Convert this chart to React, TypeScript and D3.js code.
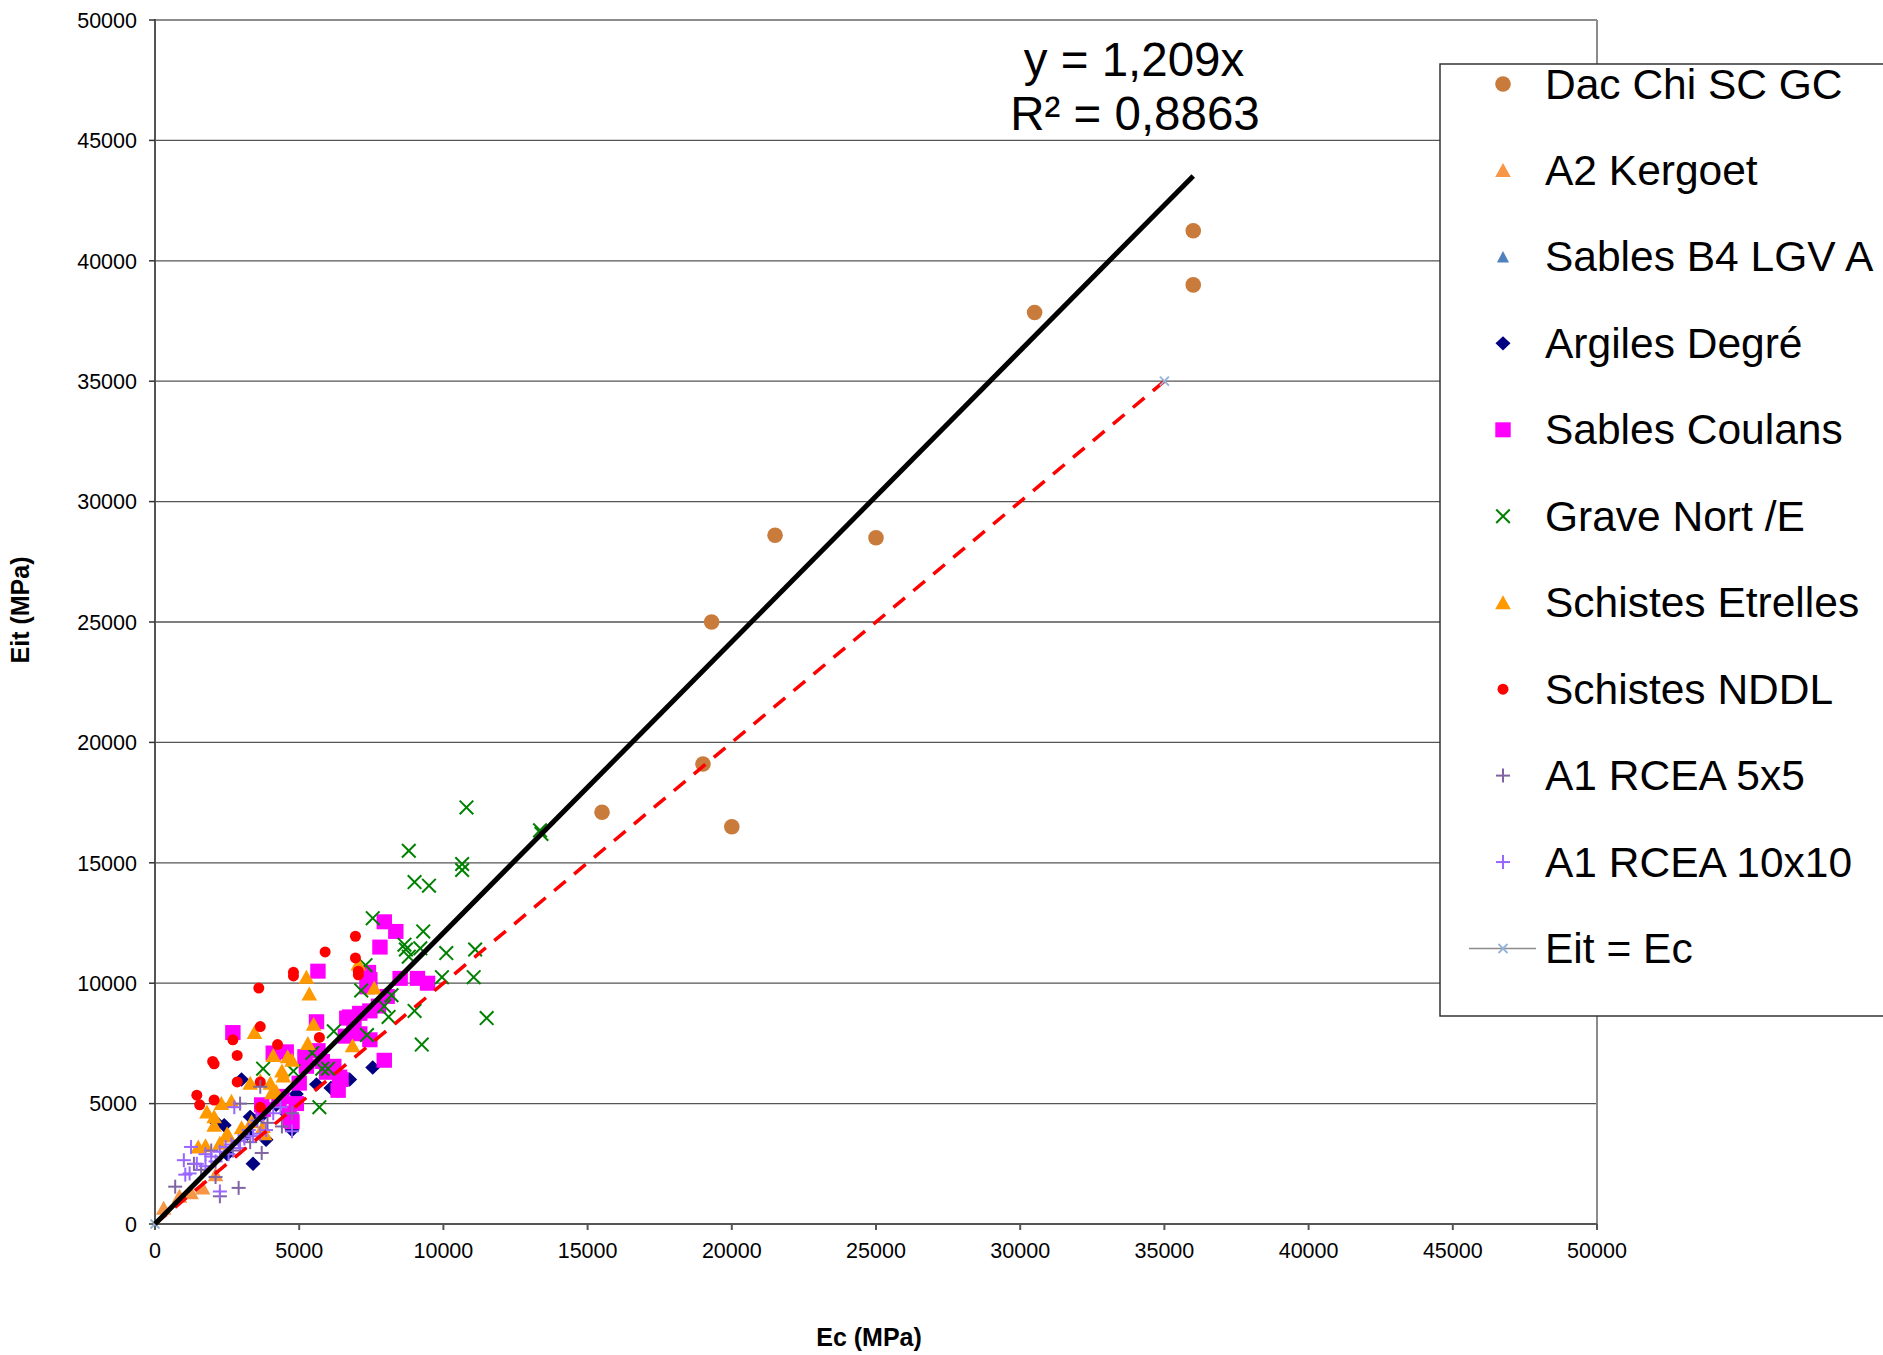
import React, { useEffect } from "react";
import * as d3 from "d3";

// ---------- data ----------
const xTickValues = [0, 5000, 10000, 15000, 20000, 25000, 30000, 35000, 40000, 45000, 50000];
const yTickValues = [0, 5000, 10000, 15000, 20000, 25000, 30000, 35000, 40000, 45000, 50000];

const dacChi: [number, number][] = [
  [36000, 41250], [36000, 39000], [30500, 37850], [21500, 28600], [25000, 28500],
  [19300, 25000], [15500, 17100], [19000, 19100], [20000, 16500],
];

const a2Kergoet: [number, number][] = [
  [300, 650], [850, 1150], [1250, 1300], [1650, 1500], [2100, 2050],
];

const sablesB4: [number, number][] = [];

const argilesDegre: [number, number][] = [
  [7550, 6500], [6750, 6000], [5600, 5800], [6100, 5650], [3000, 6000], [5800, 6650],
  [4750, 3900], [3400, 2500], [2400, 4100], [2100, 4250], [3700, 4500], [4550, 4600],
  [4900, 5400], [3850, 3500], [3200, 3750], [2500, 2900], [3300, 4450], [4200, 4950],
];

const sablesCoulans: [number, number][] = [
  [7950, 12550], [8350, 12150], [7800, 11500], [5650, 10500], [7400, 10450], [7450, 10150],
  [8500, 10200], [9100, 10200], [9450, 10000], [7350, 9850], [8050, 9450], [7450, 8850],
  [7100, 8750], [6750, 8600], [7750, 9050], [5600, 8400], [2700, 7950], [6600, 7800],
  [7450, 7650], [7950, 6800], [4100, 7100], [4550, 7150], [5200, 6950], [5250, 6550],
  [5800, 6750], [6200, 6550], [6400, 6100], [6350, 5550], [5000, 5850], [4900, 5000],
  [4650, 4600], [4700, 4300], [3700, 4950], [5950, 6300], [6900, 8200], [5650, 7200],
  [4400, 5300], [6650, 8550], [7100, 7900], [6450, 6000], [6050, 6350], [4300, 5150],
  [3750, 4750], [4750, 4250],
];

const graveNort: [number, number][] = [
  [10800, 17300], [13350, 16350], [13400, 16200], [8800, 15500], [10650, 14950], [10650, 14700],
  [9000, 14200], [9500, 14050], [7550, 12700], [9300, 12150], [8650, 11600], [8700, 11400],
  [8800, 11100], [9200, 11450], [10100, 11250], [11100, 11400], [7300, 10750], [9950, 10250],
  [11050, 10250], [7150, 9700], [8200, 9500], [7950, 9050], [8100, 8600], [9000, 8850],
  [11500, 8550], [6200, 8000], [7350, 7850], [9250, 7450], [5450, 7100], [4800, 6350],
  [5800, 6450], [6000, 6450], [3750, 6450], [5700, 4850],
];

const schistesEtrelles: [number, number][] = [
  [5250, 10250], [5350, 9550], [7050, 10800], [7600, 9800], [5500, 8300], [3450, 7950],
  [5300, 7500], [6850, 7400], [4100, 7000], [4600, 6950], [4750, 6800], [4400, 6350],
  [3300, 5850], [3650, 5950], [4000, 5850], [4050, 5450], [2300, 5000], [2650, 5100],
  [1800, 4650], [2050, 4450], [2050, 4100], [2550, 3650], [1500, 3200], [1750, 3250],
  [2500, 3750], [3000, 4000], [3750, 4050], [3800, 3750], [3350, 4250], [2250, 3350],
  [4200, 5500], [4450, 6150],
];

const schistesNDDL: [number, number][] = [
  [6950, 11950], [5900, 11300], [6950, 11050], [7050, 10500], [7050, 10350], [4800, 10450],
  [4800, 10300], [3600, 9800], [3650, 8200], [2700, 7650], [4250, 7450], [5700, 7750],
  [2850, 7000], [2000, 6750], [2050, 6650], [3650, 5900], [2850, 5900], [1450, 5350],
  [2050, 5150], [1550, 4950], [3650, 4850],
];

const a1Rcea5: [number, number][] = [
  [700, 1550], [2250, 1150], [2900, 1500], [3650, 5700], [4750, 4600], [3700, 2950],
  [1350, 2500], [2100, 1950], [2950, 5000], [3900, 4200], [3300, 3400], [2700, 3050],
  [1600, 2250], [4400, 4050], [1950, 3050],
];

const a1Rcea10: [number, number][] = [
  [1000, 2650], [1050, 2050], [1250, 3200], [1450, 2500], [1750, 2400], [1950, 2800],
  [2250, 3000], [2450, 3200], [2650, 3300], [2900, 3450], [3100, 3550], [3400, 3650],
  [3650, 3750], [3850, 3900], [4100, 4600], [4350, 4850], [2750, 4850], [4750, 3850],
  [2250, 1350], [1200, 2100], [2100, 2600], [2550, 2900], [3250, 3900], [3550, 4300],
  [1750, 2900], [2950, 3150],
];

const eitEc: [number, number][] = [[0, 0], [35000, 35000]];

const trendSlope = 1.209;
const trendXMax = 36000;
const eqLine1 = "y = 1,209x";
const eqLine2 = "R² = 0,8863";
const xTitle = "Ec (MPa)";
const yTitle = "Eit (MPa)";

type Shape = "circle" | "triangle" | "smalltriangle" | "diamond" | "square" | "x" | "plus" | "smallcircle";

const seriesList: { name: string; data: [number, number][]; shape: Shape; color: string }[] = [
  { name: "Dac Chi SC GC", data: dacChi, shape: "circle", color: "#C87B3B" },
  { name: "A2 Kergoet", data: a2Kergoet, shape: "triangle", color: "#F79646" },
  { name: "Sables B4 LGV A", data: sablesB4, shape: "smalltriangle", color: "#4F81BD" },
  { name: "Argiles Degré", data: argilesDegre, shape: "diamond", color: "#000080" },
  { name: "Sables Coulans", data: sablesCoulans, shape: "square", color: "#FF00FF" },
  { name: "Grave Nort /E", data: graveNort, shape: "x", color: "#008000" },
  { name: "Schistes Etrelles", data: schistesEtrelles, shape: "triangle", color: "#FF9900" },
  { name: "Schistes NDDL", data: schistesNDDL, shape: "smallcircle", color: "#FF0000" },
  { name: "A1 RCEA 5x5", data: a1Rcea5, shape: "plus", color: "#8064A2" },
  { name: "A1 RCEA 10x10", data: a1Rcea10, shape: "plus", color: "#9966FF" },
];
const eitEcName = "Eit = Ec";

// ---------- marker ----------
function Marker({ shape, x, y, color }: { shape: Shape; x: number; y: number; color: string }) {
  switch (shape) {
    case "circle":
      return <circle cx={x} cy={y} r={7.8} fill={color} />;
    case "smallcircle":
      return <circle cx={x} cy={y} r={5.5} fill={color} />;
    case "square":
      return <rect x={x - 7.7} y={y - 7.5} width={15.4} height={15} fill={color} />;
    case "diamond":
      return <path d={`M${x},${y - 7.2}L${x + 7.5},${y}L${x},${y + 7.2}L${x - 7.5},${y}Z`} fill={color} />;
    case "triangle":
      return <path d={`M${x},${y - 7.5}L${x + 7.8},${y + 6.5}L${x - 7.8},${y + 6.5}Z`} fill={color} />;
    case "smalltriangle":
      return <path d={`M${x},${y - 6}L${x + 6},${y + 5.5}L${x - 6},${y + 5.5}Z`} fill={color} />;
    case "x":
      return (
        <g stroke={color} strokeWidth={2}>
          <line x1={x - 6.8} y1={y - 6.8} x2={x + 6.8} y2={y + 6.8} />
          <line x1={x - 6.8} y1={y + 6.8} x2={x + 6.8} y2={y - 6.8} />
        </g>
      );
    case "plus":
      return (
        <g stroke={color} strokeWidth={2}>
          <line x1={x - 7} y1={y} x2={x + 7} y2={y} />
          <line x1={x} y1={y - 7} x2={x} y2={y + 7} />
        </g>
      );
  }
  return null;
}

function SmallX({ x, y }: { x: number; y: number }) {
  return (
    <g stroke="#95B3D7" strokeWidth={1.8}>
      <line x1={x - 4.5} y1={y - 4.5} x2={x + 4.5} y2={y + 4.5} />
      <line x1={x - 4.5} y1={y + 4.5} x2={x + 4.5} y2={y - 4.5} />
    </g>
  );
}

const FONT = "'Liberation Sans', Arial, Helvetica, sans-serif";

export default function App() {
  useEffect(() => {
    document.body.style.margin = "0";
    document.body.style.overflow = "hidden";
  }, []);

  const W = 1883;
  const H = 1355;
  const xScale = d3.scaleLinear().domain([0, 50000]).range([155, 1597]);
  const yScale = d3.scaleLinear().domain([0, 50000]).range([1224, 20]);

  const lineGen = d3
    .line<[number, number]>()
    .x((d) => xScale(d[0]))
    .y((d) => yScale(d[1]));

  const trendPts: [number, number][] = [
    [0, 0],
    [trendXMax, trendXMax * trendSlope],
  ];

  const legendX = 1440;
  const legendTop = 64;
  const legendBottom = 1016;
  const legendMarkerX = 1503;
  const legendTextX = 1545;
  const legendBase0 = 98.5;
  const legendStep = 86.45;

  const legendItems = [...seriesList.map((s) => s.name), eitEcName];

  return (
    <>
      <style>{"body{margin:0;overflow:hidden}"}</style>
      <svg width={W} height={H} style={{ display: "block", background: "#fff" }} fontFamily={FONT}>
        <rect x={0} y={0} width={W} height={H} fill="#fff" />
        {/* gridlines */}
        {yTickValues.map((v) => (
          <line
            key={"g" + v}
            x1={xScale(0)}
            x2={xScale(50000)}
            y1={yScale(v)}
            y2={yScale(v)}
            stroke={v === 50000 ? "#8c8c8c" : "#555"}
            strokeWidth={v === 50000 ? 2 : 1.3}
          />
        ))}
        {/* right border */}
        <line x1={xScale(50000)} x2={xScale(50000)} y1={yScale(50000)} y2={yScale(0)} stroke="#8c8c8c" strokeWidth={2} />
        {/* axes */}
        <line x1={xScale(0)} x2={xScale(0)} y1={yScale(50000) - 1} y2={yScale(0)} stroke="#555" strokeWidth={2} />
        <line x1={xScale(0)} x2={xScale(50000)} y1={yScale(0)} y2={yScale(0)} stroke="#555" strokeWidth={2} />
        {/* y ticks */}
        {yTickValues.map((v) => (
          <g key={"yt" + v}>
            <line x1={xScale(0) - 6} x2={xScale(0)} y1={yScale(v)} y2={yScale(v)} stroke="#333" strokeWidth={1.5} />
            <text x={137} y={yScale(v)} dy="0.36em" textAnchor="end" fontSize={21.5} fill="#000">
              {v}
            </text>
          </g>
        ))}
        {/* x ticks */}
        {xTickValues.map((v) => (
          <g key={"xt" + v}>
            <line x1={xScale(v)} x2={xScale(v)} y1={yScale(0)} y2={yScale(0) + 6} stroke="#555" strokeWidth={2} />
            <text x={xScale(v)} y={1258} textAnchor="middle" fontSize={21.5} fill="#000">
              {v}
            </text>
          </g>
        ))}
        {/* series */}
        {seriesList.map((s) => (
          <g key={s.name}>
            {s.data.map((d, i) => (
              <Marker key={i} shape={s.shape} x={xScale(d[0])} y={yScale(d[1])} color={s.color} />
            ))}
          </g>
        ))}
        {/* Eit = Ec */}
        <path d={lineGen(eitEc) || ""} stroke="#FF0000" strokeWidth={3.5} strokeDasharray="15,11" fill="none" />
        {eitEc.map((d, i) => (
          <SmallX key={"e" + i} x={xScale(d[0])} y={yScale(d[1])} />
        ))}
        {/* trend line */}
        <path d={lineGen(trendPts) || ""} stroke="#000" strokeWidth={5} fill="none" />
        {/* equation */}
        <text x={1134} y={76} textAnchor="middle" fontSize={47.5} fill="#000">
          {eqLine1}
        </text>
        <text x={1135} y={130} textAnchor="middle" fontSize={47.5} fill="#000">
          {eqLine2}
        </text>
        {/* axis titles */}
        <text x={869} y={1346} textAnchor="middle" fontSize={25} fontWeight="bold" fill="#000">
          {xTitle}
        </text>
        <text transform="translate(29,610) rotate(-90)" textAnchor="middle" fontSize={25} fontWeight="bold" fill="#000">
          {yTitle}
        </text>
        {/* legend */}
        <rect
          x={legendX}
          y={legendTop}
          width={W - legendX + 20}
          height={legendBottom - legendTop}
          fill="#fff"
          stroke="#333"
          strokeWidth={1.5}
        />
        {legendItems.map((name, i) => {
          const base = legendBase0 + i * legendStep;
          const cy = base - 14.5;
          const s = seriesList[i];
          return (
            <g key={"l" + name}>
              {s ? (
                <Marker shape={s.shape} x={legendMarkerX} y={cy} color={s.color} />
              ) : (
                <g>
                  <line x1={1469} x2={1536} y1={cy} y2={cy} stroke="#8c8c8c" strokeWidth={1.5} />
                  <SmallX x={legendMarkerX} y={cy} />
                </g>
              )}
              <text x={legendTextX} y={base} fontSize={42.5} fill="#000">
                {name}
              </text>
            </g>
          );
        })}
      </svg>
    </>
  );
}
